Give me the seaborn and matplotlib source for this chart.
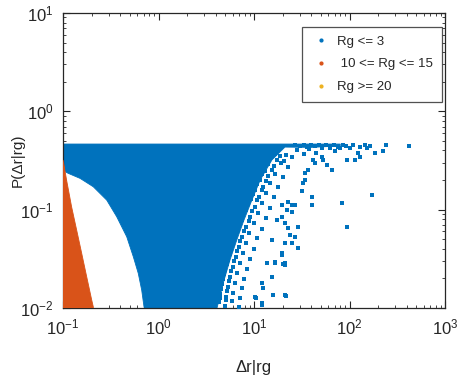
import numpy as np
import pandas as pd
import matplotlib
matplotlib.use("Agg")
import matplotlib.pyplot as plt
from matplotlib.lines import Line2D
import seaborn as sns

# MATLAB default colours
BLUE = "#0072BD"
ORANGE = "#D95319"
YELLOW = "#EDB120"

labels = ["Rg <= 3", " 10 <= Rg <= 15", "Rg >= 20"]

# Rg <= 3 : dense cloud outline (left edge top->bottom, right edge bottom->top)
blue_left_x = [0.1, 0.1, 0.1136, 0.151, 0.2075, 0.287, 0.365, 0.465, 0.545, 0.614, 0.667, 0.705, 0.71]
blue_left_y = [0.465, 0.25, 0.234, 0.208, 0.171, 0.125, 0.0848, 0.053, 0.0332, 0.0225, 0.0152, 0.0103, 0.01]
blue_right_x = [4.1, 4.3, 4.86, 5.6, 6.6, 7.85, 9.5, 11.6, 15.4, 21.1, 40, 80, 80]
blue_right_y = [0.01, 0.012, 0.0192, 0.0307, 0.0491, 0.0784, 0.125, 0.2, 0.32, 0.433, 0.43, 0.445, 0.465]

# Rg <= 3 : sparse points far out on the right
outer_x = [40.5, 40.5, 31.8, 32.6, 26.9, 25.0, 22.2, 28.9, 22.7, 26.9, 21.1, 28.9,
           16.6, 13.7, 21.1, 21.1, 19.6, 15.4, 15.8, 21.1, 12.1, 12.4, 10.2, 12.1,
           15.4, 17.4, 19.6, 21.1, 22.7, 34.2, 36.7, 43.5, 41.5, 51.5, 34.2, 83.4,
           172, 94.2, 23.8, 25.0, 20.1, 21.6, 10.5, 12.1, 19.6, 16.6, 65.6, 58.1,
           52.8, 94.2, 114, 129, 185, 224, 241, 420, 164, 152, 123, 101, 79.6, 62.5,
           70.5, 19.6, 25.0,
           27, 30, 33, 36, 40, 44, 48, 52, 57, 63, 68, 75, 85, 92, 110, 130, 145,
           28, 33, 38, 45]
outer_y = [0.134, 0.111, 0.155, 0.187, 0.111, 0.0946, 0.099, 0.0666, 0.065, 0.0527, 0.0457, 0.0407,
           0.0286, 0.0286, 0.0286, 0.0273, 0.0345, 0.0206, 0.0135, 0.0135, 0.0179, 0.0159, 0.0129, 0.0112,
           0.0491, 0.0784, 0.0841, 0.0731, 0.119, 0.2, 0.253, 0.298, 0.32, 0.343, 0.236, 0.117,
           0.141, 0.0666, 0.0552, 0.0457, 0.028, 0.0132, 0.0126, 0.0107, 0.0362, 0.0293, 0.253, 0.284,
           0.32, 0.32, 0.32, 0.343, 0.376, 0.394, 0.454, 0.444, 0.444, 0.423, 0.376, 0.423, 0.423, 0.423,
           0.394, 0.111, 0.111,
           0.45, 0.44, 0.45, 0.43, 0.45, 0.44, 0.45, 0.42, 0.45, 0.44, 0.45, 0.43, 0.45, 0.44, 0.45, 0.43, 0.45,
           0.40, 0.37, 0.41, 0.38]

# Rg <= 3 : speckled band just right of the dense part
edge_x = [16.6, 18.7, 21.6, 25.0, 14.0, 16.2, 19.2, 22.7, 12.1, 14.0, 16.6, 20.1,
          10.7, 12.4, 14.7, 17.8, 9.77, 11.3, 13.4, 16.2, 8.65, 10.2, 12.1, 14.7,
          7.85, 9.08, 11.0, 13.4, 7.13, 8.24, 10.0, 12.1, 6.48, 7.48, 8.87, 10.7,
          6.03, 6.96, 8.24, 10.0, 5.6, 6.48, 7.67, 9.08, 5.21, 6.03, 7.13, 8.45,
          4.86, 5.6, 6.6, 7.85, 4.62, 5.34, 6.32, 7.48, 4.40, 5.09, 6.03, 7.13,
          4.30, 4.97, 5.89, 6.96,
          17.5, 20.5, 13.0, 15.5, 11.5, 13.2, 10.2, 12.0, 9.2, 10.8, 8.2, 9.5,
          7.5, 8.8, 6.8, 7.9, 6.2, 7.1, 5.8, 6.7, 5.4, 6.2, 5.0, 5.8,
          4.75, 5.45, 4.5, 5.2, 4.4, 5.1]
edge_y = [0.37, 0.35, 0.362, 0.345, 0.29, 0.276, 0.295, 0.27, 0.232, 0.218, 0.229, 0.214,
          0.183, 0.172, 0.186, 0.169, 0.146, 0.136, 0.148, 0.133, 0.115, 0.106, 0.117, 0.104,
          0.092, 0.085, 0.0915, 0.082, 0.072, 0.0665, 0.0735, 0.064, 0.057, 0.0525, 0.0585, 0.051,
          0.045, 0.0415, 0.0462, 0.040, 0.0355, 0.0328, 0.0362, 0.0318, 0.028, 0.026, 0.0288, 0.0252,
          0.0222, 0.0205, 0.0228, 0.0198, 0.0176, 0.0163, 0.0179, 0.0158, 0.0139, 0.0129, 0.0141, 0.0126,
          0.0115, 0.0106, 0.0117, 0.0103,
          0.32, 0.31, 0.25, 0.255, 0.2, 0.195, 0.16, 0.158, 0.127, 0.124, 0.1, 0.097,
          0.079, 0.077, 0.062, 0.061, 0.049, 0.048, 0.039, 0.038, 0.031, 0.03, 0.0245, 0.024,
          0.0195, 0.019, 0.0155, 0.015, 0.0125, 0.0122]

# 10 <= Rg <= 15 : outline
orange_x = [0.1, 0.1024, 0.109, 0.123, 0.139, 0.157, 0.177, 0.20, 0.2075, 0.208, 0.1]
orange_y = [0.32, 0.284, 0.200, 0.107, 0.062, 0.0359, 0.0208, 0.012, 0.0103, 0.01, 0.01]

sns.set_style("ticks")
plt.rcParams["font.family"] = ["Liberation Sans", "DejaVu Sans"]

fig = plt.figure(figsize=(4.68, 3.77), dpi=100)
ax = fig.add_axes([63 / 468, 1 - 308 / 377, 382 / 468, 295 / 377])
ax.set_xscale("log")
ax.set_yscale("log")

# dense part of the Rg <= 3 cloud
ax.fill(blue_left_x + blue_right_x, blue_left_y + blue_right_y,
        color=BLUE, lw=0.6, ec=BLUE, zorder=2)

sparse = pd.DataFrame({"dr": outer_x + edge_x, "p": outer_y + edge_y})
sns.scatterplot(data=sparse, x="dr", y="p", ax=ax, color=BLUE, s=5,
                marker="s", linewidth=0, zorder=3, legend=False)

ax.fill(orange_x, orange_y, color=ORANGE, lw=0.6, ec=ORANGE, zorder=4)

ax.set_xlim(1e-1, 1e3)
ax.set_ylim(1e-2, 1e1)

for s in ax.spines.values():
    s.set_color("#262626")
    s.set_linewidth(0.9)
    s.set_visible(True)
ax.tick_params(which="both", direction="in", top=True, right=True,
               colors="#262626", labelsize=12)
ax.tick_params(which="major", length=5, width=0.8, pad=7)
ax.tick_params(which="minor", length=2.5, width=0.6)

ax.set_xlabel("Δr|rg", fontsize=12, color="#262626")
ax.set_ylabel("P(Δr|rg)", fontsize=11, color="#262626")
ax.xaxis.set_label_coords(0.5, -0.175)
ax.yaxis.set_label_coords(-0.1, 0.5)

handles = [Line2D([], [], ls="none", marker="o", ms=2, color=c)
           for c in (BLUE, ORANGE, YELLOW)]
leg = ax.legend(handles, labels, loc="upper left", bbox_to_anchor=(0.626, 0.953),
                borderaxespad=0, fontsize=9.5, frameon=True, fancybox=False,
                edgecolor="#262626", handletextpad=0.5, labelspacing=0.8,
                borderpad=0.65, handlelength=1.5)
leg.get_frame().set_linewidth(0.9)

fig.savefig("out.png", dpi=100)
